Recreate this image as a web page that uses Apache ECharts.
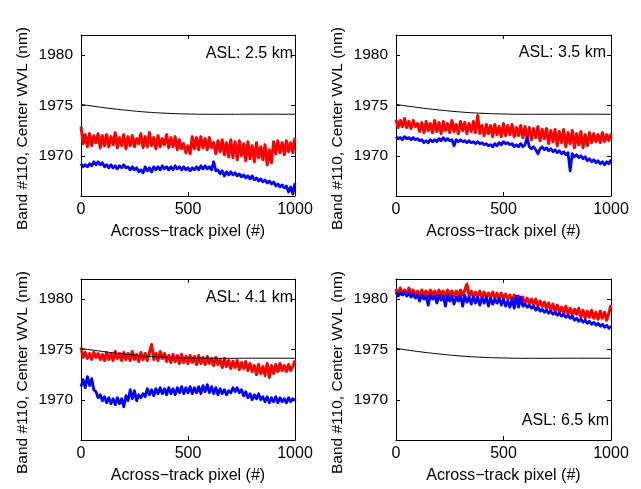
<!DOCTYPE html>
<html><head><meta charset="utf-8">
<script src="https://cdn.jsdelivr.net/npm/echarts@6/dist/echarts.min.js"></script>
<style>html,body{margin:0;padding:0;background:#fff}#c{width:641px;height:489px}</style>
</head><body><div id="c"></div>
<script>
// ---- data ----
const xTickValues = [0, 500, 1000];
const yTickValues = [1970, 1975, 1980];
const panelLabels = ['ASL: 2.5 km', 'ASL: 3.5 km', 'ASL: 4.1 km', 'ASL: 6.5 km'];
const xTitle = 'Across\u2212track pixel (#)';
const yTitle = 'Band #110, Center WVL (nm)';

// model curve (black), sampled every 100 pixels
const modelX = [0, 100, 200, 300, 400, 500, 600, 700, 800, 900, 1000];
const modelWVL = [1975.1, 1974.8, 1974.55, 1974.35, 1974.22, 1974.15, 1974.12, 1974.12, 1974.13, 1974.13, 1974.12];

// measured curves sampled every 10 pixels (0..1000)
const red25 = [1972.9,1971.2,1972.1,1970.9,1972.2,1971.0,1972.0,1971.3,1972.2,1970.8,1972.0,1971.0,1972.1,1970.9,1971.9,1971.1,1972.3,1970.8,1971.8,1971.0,1972.1,1970.7,1971.9,1971.0,1972.0,1970.9,1971.7,1971.2,1972.2,1970.8,1971.9,1970.9,1972.3,1971.0,1971.8,1970.7,1972.0,1970.9,1971.7,1971.1,1972.1,1970.8,1971.8,1970.9,1971.9,1970.6,1971.6,1970.7,1971.2,1970.3,1971.0,1970.2,1971.9,1970.7,1971.8,1970.6,1971.9,1970.8,1971.7,1970.6,1971.8,1970.8,1971.3,1970.2,1971.5,1970.4,1971.6,1970.1,1971.3,1969.9,1971.6,1969.8,1971.4,1969.6,1971.5,1970.0,1971.2,1969.5,1971.4,1969.7,1971.0,1969.4,1971.3,1969.8,1970.9,1969.6,1971.1,1969.1,1970.6,1969.3,1971.4,1970.2,1971.5,1970.3,1971.3,1970.1,1971.5,1970.4,1971.3,1970.3,1971.8];
const blue25 = [1969.2,1968.9,1969.1,1968.9,1969.2,1969.0,1969.4,1969.1,1969.4,1969.1,1969.3,1968.9,1969.1,1968.8,1969.1,1968.8,1969.0,1968.7,1969.0,1968.8,1969.1,1968.8,1968.9,1968.6,1968.9,1968.6,1968.8,1968.4,1968.6,1968.3,1968.9,1968.5,1968.8,1968.4,1968.9,1968.6,1968.9,1968.6,1969.0,1968.7,1968.9,1968.6,1968.9,1968.6,1969.0,1968.7,1968.9,1968.6,1968.9,1968.6,1968.8,1968.5,1968.8,1968.6,1968.9,1968.6,1969.0,1968.7,1969.0,1968.7,1968.9,1968.6,1969.4,1968.5,1968.6,1968.2,1968.5,1968.0,1968.4,1968.1,1968.4,1968.1,1968.3,1968.0,1968.2,1967.9,1968.1,1967.8,1968.0,1967.7,1968.0,1967.6,1967.8,1967.5,1967.7,1967.4,1967.6,1967.3,1967.5,1967.2,1967.4,1967.0,1967.2,1966.9,1967.1,1966.8,1967.0,1966.4,1966.9,1966.2,1967.3];
const red35 = [1973.6,1972.8,1973.5,1972.9,1973.7,1972.8,1973.4,1972.7,1973.5,1972.9,1973.2,1972.4,1973.3,1972.3,1973.4,1972.5,1973.2,1972.3,1973.5,1972.4,1973.3,1972.2,1973.4,1972.5,1973.2,1972.3,1973.5,1972.4,1973.1,1972.2,1973.4,1972.5,1973.3,1972.2,1973.2,1972.4,1973.4,1972.3,1974.0,1972.2,1973.0,1972.0,1973.1,1972.2,1973.0,1971.9,1973.1,1972.1,1972.9,1971.9,1973.2,1972.0,1973.0,1972.1,1973.1,1971.9,1972.8,1972.0,1973.0,1971.8,1972.9,1971.7,1972.8,1971.6,1972.7,1971.8,1972.9,1971.5,1972.6,1971.7,1972.7,1971.2,1972.5,1971.4,1972.6,1971.0,1972.4,1971.3,1972.6,1970.9,1972.3,1971.2,1972.5,1970.8,1972.2,1971.1,1972.4,1970.8,1972.1,1971.0,1972.3,1971.3,1972.2,1971.4,1972.1,1971.3,1972.3,1971.4,1972.1,1971.5,1972.2];
const blue35 = [1971.9,1971.7,1971.8,1971.6,1971.9,1971.7,1971.8,1971.6,1971.8,1971.6,1971.7,1971.5,1971.6,1971.3,1971.5,1971.3,1971.6,1971.4,1971.6,1971.4,1971.7,1971.5,1971.8,1971.5,1971.7,1971.5,1971.6,1971.0,1971.6,1971.4,1971.6,1971.4,1971.5,1971.3,1971.5,1971.3,1971.4,1971.2,1971.4,1971.2,1971.3,1971.1,1971.2,1971.0,1971.1,1970.9,1971.2,1971.0,1971.3,1971.1,1971.4,1971.2,1971.3,1971.1,1971.2,1970.9,1971.1,1970.9,1971.2,1970.9,1971.1,1971.8,1970.9,1970.7,1970.9,1970.6,1970.2,1970.7,1970.9,1970.6,1970.8,1970.5,1970.7,1970.4,1970.6,1970.3,1970.5,1970.2,1970.4,1970.1,1970.3,1968.5,1970.2,1969.9,1970.1,1969.8,1970.0,1969.7,1969.9,1969.5,1969.7,1969.4,1969.6,1969.3,1969.5,1969.2,1969.4,1969.1,1969.4,1969.2,1969.6];
const red41 = [1975.2,1974.2,1974.7,1974.1,1974.6,1974.0,1974.7,1974.2,1974.6,1974.0,1974.5,1973.9,1974.7,1974.0,1974.6,1973.9,1974.8,1974.1,1974.6,1973.9,1974.7,1974.0,1974.6,1973.9,1974.8,1974.0,1974.5,1973.8,1974.7,1974.0,1974.6,1973.9,1974.7,1975.5,1974.0,1974.6,1973.9,1974.8,1974.1,1974.6,1973.8,1974.4,1973.7,1974.5,1973.8,1974.4,1973.6,1974.5,1973.7,1974.3,1973.6,1974.4,1973.7,1974.3,1973.5,1974.4,1973.6,1974.2,1973.5,1974.3,1973.6,1974.1,1973.4,1974.2,1973.5,1974.0,1973.2,1974.1,1973.3,1973.9,1973.1,1973.8,1973.2,1973.9,1973.0,1973.7,1973.1,1973.8,1972.9,1973.6,1972.8,1973.4,1972.5,1973.5,1972.6,1973.3,1972.4,1973.6,1972.2,1973.4,1972.6,1973.5,1972.8,1973.6,1972.9,1973.4,1972.8,1973.5,1972.9,1973.3,1973.9];
const blue41 = [1971.3,1972.0,1971.2,1972.3,1971.4,1972.1,1971.0,1970.8,1970.2,1970.5,1969.9,1970.3,1969.7,1970.2,1969.6,1970.1,1969.5,1970.2,1969.6,1970.1,1969.3,1970.4,1969.9,1971.0,1970.1,1970.9,1969.9,1970.5,1970.2,1970.6,1970.3,1971.1,1970.5,1971.0,1970.4,1971.1,1970.6,1971.2,1970.6,1971.1,1970.5,1971.2,1970.6,1971.1,1970.5,1971.2,1970.7,1971.3,1970.6,1971.2,1970.7,1971.3,1970.6,1971.2,1970.7,1971.3,1970.6,1971.4,1970.8,1971.5,1970.7,1971.3,1970.6,1971.2,1970.5,1971.1,1970.6,1971.0,1970.5,1970.9,1970.7,1971.2,1970.8,1971.2,1970.7,1971.0,1970.4,1970.8,1970.2,1970.6,1970.0,1970.5,1970.1,1970.6,1970.0,1970.3,1969.8,1970.3,1969.7,1970.2,1969.8,1970.3,1969.7,1970.2,1969.8,1970.1,1969.7,1970.2,1969.8,1970.1,1969.9];
const red65 = [1981.0,1980.4,1981.1,1980.5,1980.9,1980.4,1981.1,1980.5,1980.9,1980.3,1980.8,1980.3,1980.9,1980.4,1980.8,1980.3,1980.9,1980.4,1980.8,1980.3,1980.9,1980.4,1980.8,1980.3,1980.9,1980.4,1980.8,1980.3,1980.8,1980.3,1980.9,1980.4,1980.9,1981.5,1980.3,1980.8,1980.2,1980.7,1980.2,1980.8,1980.1,1980.7,1980.2,1980.6,1980.1,1980.7,1980.1,1980.6,1980.0,1980.6,1980.1,1980.5,1980.0,1980.4,1979.8,1980.4,1979.7,1980.3,1979.6,1980.2,1979.5,1980.1,1979.6,1980.0,1979.4,1980.0,1979.3,1979.8,1979.3,1979.7,1979.1,1979.6,1978.9,1979.5,1978.8,1979.4,1978.7,1979.2,1978.6,1979.3,1978.5,1979.1,1978.4,1979.0,1978.5,1979.1,1978.2,1978.9,1978.1,1978.8,1978.2,1978.9,1978.1,1978.7,1978.0,1978.8,1978.1,1978.7,1977.9,1978.6,1979.4];
const blue65 = [1980.7,1980.3,1980.6,1980.4,1980.7,1980.3,1980.6,1980.2,1980.5,1980.1,1980.4,1979.8,1980.4,1980.0,1980.3,1979.4,1980.4,1980.0,1980.3,1979.6,1980.4,1979.9,1980.3,1979.3,1980.4,1979.8,1980.3,1979.5,1980.2,1979.8,1980.3,1979.3,1980.4,1979.7,1980.2,1979.5,1980.3,1979.6,1980.2,1979.4,1980.1,1979.6,1980.2,1979.3,1980.1,1979.5,1980.0,1979.6,1980.1,1979.4,1980.0,1979.3,1979.8,1979.2,1980.0,1979.1,1980.3,1979.2,1980.2,1979.3,1979.5,1979.2,1979.4,1979.1,1979.3,1978.9,1979.2,1978.8,1979.0,1978.7,1978.9,1978.6,1978.8,1978.5,1978.7,1978.4,1978.6,1978.3,1978.5,1978.2,1978.4,1978.1,1978.3,1977.9,1978.1,1977.8,1978.0,1977.7,1977.9,1977.6,1977.8,1977.5,1977.7,1977.4,1977.6,1977.3,1977.5,1977.2,1977.4,1977.1,1977.3];

const redSeries = [red25, red35, red41, red65];
const blueSeries = [blue25, blue35, blue41, blue65];

// ---- build ----
const pixelIdx = [];
for (let i = 0; i <= 100; i++) pixelIdx.push(i * 10);
const pair = (xs, ys) => ys.map((v, i) => [xs[i], v]);

const FONT = 'Liberation Sans, Arial, Helvetica, sans-serif';
const grids = [
  {left: 81, top: 35, width: 214, height: 161},
  {left: 396, top: 35, width: 215, height: 161},
  {left: 81, top: 279, width: 214, height: 161},
  {left: 396, top: 279, width: 215, height: 161}
];
const plain = v => String(v);
const axLine = {show: true, onZero: false, lineStyle: {color: '#000', width: 1}};
const xAxes = [], yAxes = [], series = [];
grids.forEach((g, gi) => {
  xAxes.push({
    type: 'value', gridIndex: gi, position: 'bottom', min: 0, max: 1000, interval: 500,
    axisLine: axLine, splitLine: {show: false},
    axisTick: {show: true, inside: true, length: 4, customValues: xTickValues, lineStyle: {color: '#000'}},
    axisLabel: {show: true, margin: 6, customValues: xTickValues, formatter: plain, color: '#000', fontSize: 16, fontFamily: FONT},
    name: xTitle, nameLocation: 'middle', nameGap: 28,
    nameTextStyle: {color: '#000', fontSize: 16, fontFamily: FONT}
  });
  xAxes.push({
    type: 'value', gridIndex: gi, position: 'top', min: 0, max: 1000, interval: 500,
    axisLine: axLine, splitLine: {show: false},
    axisTick: {show: true, inside: true, length: 4, customValues: xTickValues, lineStyle: {color: '#000'}},
    axisLabel: {show: false}
  });
  yAxes.push({
    type: 'value', gridIndex: gi, position: 'left', min: 1966, max: 1982,
    axisLine: axLine, splitLine: {show: false},
    axisTick: {show: true, inside: true, length: 4, customValues: yTickValues, lineStyle: {color: '#000'}},
    axisLabel: {show: true, margin: 8, customValues: yTickValues, formatter: plain, color: '#000', fontSize: 15.5, fontFamily: FONT},
    name: yTitle, nameLocation: 'middle', nameGap: 50, nameRotate: 90,
    nameTextStyle: {color: '#000', fontSize: 15.5, fontFamily: FONT, padding: [0, 26, 0, 0]}
  });
  yAxes.push({
    type: 'value', gridIndex: gi, position: 'right', min: 1966, max: 1982,
    axisLine: axLine, splitLine: {show: false},
    axisTick: {show: true, inside: true, length: 4, customValues: yTickValues, lineStyle: {color: '#000'}},
    axisLabel: {show: false}
  });
  const common = {type: 'line', xAxisIndex: gi * 2, yAxisIndex: gi * 2, symbol: 'none', animation: false, clip: true, silent: true};
  series.push(Object.assign({}, common, {data: pair(pixelIdx, redSeries[gi]), lineStyle: {color: '#ff0000', width: 3, join: 'round'}}));
  series.push(Object.assign({}, common, {data: pair(pixelIdx, blueSeries[gi]), lineStyle: {color: '#0000ff', width: 2.8, join: 'round'}}));
  series.push(Object.assign({}, common, {data: pair(modelX, modelWVL), smooth: true, lineStyle: {color: '#000', width: 1}}));
});

const labelPos = [
  {x: 293, y: 54}, {x: 606, y: 53}, {x: 293, y: 298}, {x: 609, y: 421}
];
const graphic = panelLabels.map((t, i) => ({
  type: 'text', x: labelPos[i].x, y: labelPos[i].y, z: 100,
  style: {text: t, fill: '#000', font: '16px ' + FONT, align: 'right', verticalAlign: 'middle'}
}));

const chart = echarts.init(document.getElementById('c'), null, {renderer: 'canvas'});
chart.setOption({
  animation: false,
  backgroundColor: '#fff',
  grid: grids,
  xAxis: xAxes,
  yAxis: yAxes,
  series: series,
  graphic: graphic
});
</script></body></html>
